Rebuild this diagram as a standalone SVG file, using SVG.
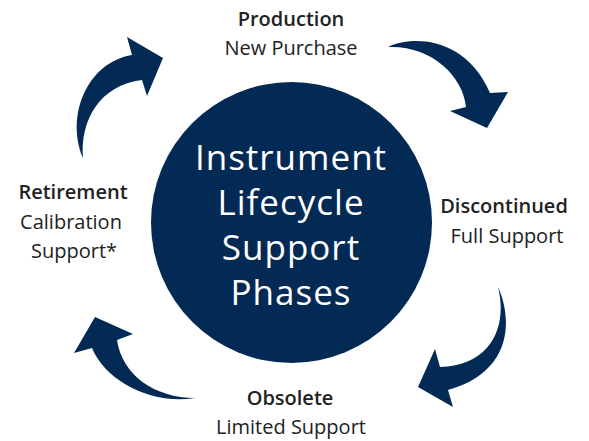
<svg xmlns="http://www.w3.org/2000/svg" width="589" height="441" viewBox="0 0 589 441">
<style>
.arrow{fill:#022a55;stroke:none}
.lbl{font-family:"Open Sans","Liberation Sans",sans-serif;font-size:20px;fill:#222;text-anchor:middle}
.b{font-weight:600;font-size:20px}
.ctr{font-family:"Open Sans","Liberation Sans",sans-serif;font-size:35px;letter-spacing:1px;font-weight:500;fill:#fff;text-anchor:middle}
</style>
<rect width="589" height="441" fill="#fff"/>
<g id="connectors">
<path class="arrow" d="M388,47 C410,36 465,35 490,93 L508,92 L487,128 L450,111 L466,107 C463,75 430,45 388,47 Z"/>
<path class="arrow" d="M498,287 C513,320 512,372 448,390 L453,407 L418,387 L435,349 L440,367 C495,365 507,322 498,287 Z"/>
<path class="arrow" d="M195,398 C150,405 105,380 92,348 L74,353 L95,317 L133,334 L117,340 C122,375 155,398 195,398 Z"/>
<path class="arrow" d="M83,158 C65,115 88,62 132,55 L127,37 L163,58 L147,96 L142,80 C100,85 80,120 83,158 Z"/>
</g>
<g id="center">
<circle cx="291.5" cy="222.5" r="140.5" fill="#022a55"/>
<text class="ctr" x="291" y="170">Instrument</text>
<text class="ctr" x="291" y="215">Lifecycle</text>
<text class="ctr" x="291" y="260">Support</text>
<text class="ctr" x="291" y="305">Phases</text>
</g>
<g id="production">
<text class="lbl b" x="291" y="26">Production</text>
<text class="lbl" x="291" y="55">New Purchase</text>
</g>
<g id="discontinued">
<text class="lbl b" x="504" y="213">Discontinued</text>
<text class="lbl" x="507" y="243">Full Support</text>
</g>
<g id="obsolete">
<text class="lbl b" x="290" y="405">Obsolete</text>
<text class="lbl" x="291" y="434">Limited Support</text>
</g>
<g id="retirement">
<text class="lbl b" x="73" y="199">Retirement</text>
<text class="lbl" x="71" y="229">Calibration</text>
<text class="lbl" x="74" y="258">Support*</text>
</g>
</svg>
